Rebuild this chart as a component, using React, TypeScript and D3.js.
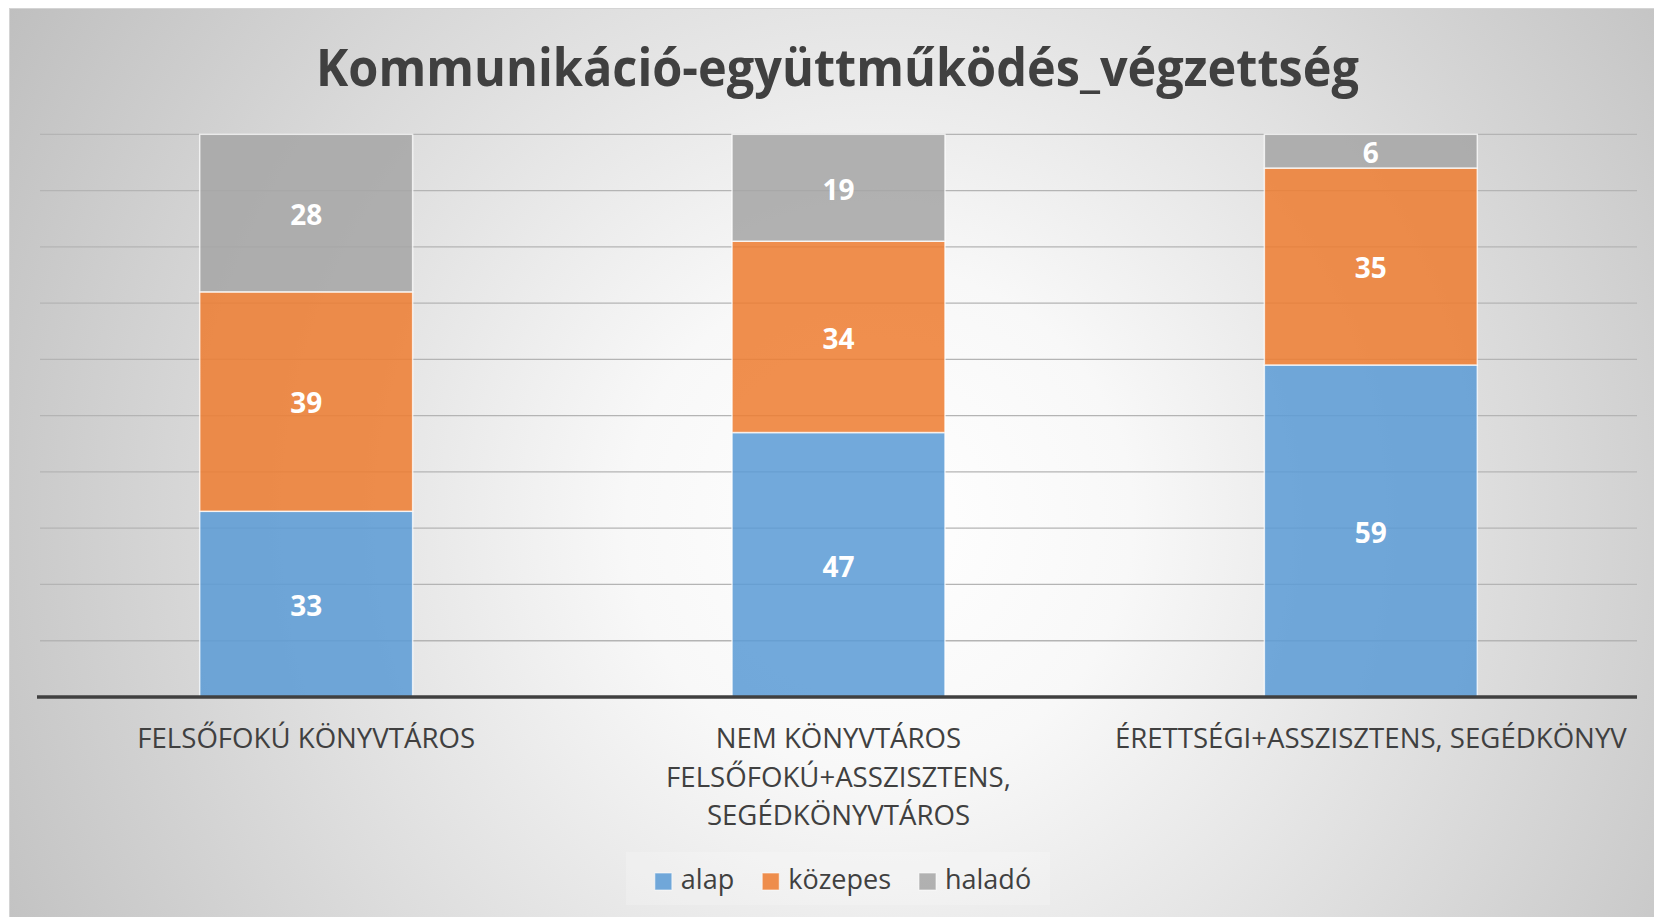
import React, { useMemo } from "react";
import * as d3 from "d3";

const TITLE = "Kommunikáció-együttműködés_végzettség";
const categories = [
  "FELSŐFOKÚ KÖNYVTÁROS",
  "NEM KÖNYVTÁROS FELSŐFOKÚ+ASSZISZTENS, SEGÉDKÖNYVTÁROS",
  "ÉRETTSÉGI+ASSZISZTENS, SEGÉDKÖNYV",
];
const categoryLines = [
  ["FELSŐFOKÚ KÖNYVTÁROS"],
  ["NEM KÖNYVTÁROS", "FELSŐFOKÚ+ASSZISZTENS,", "SEGÉDKÖNYVTÁROS"],
  ["ÉRETTSÉGI+ASSZISZTENS, SEGÉDKÖNYV"],
];
const seriesNames = ["alap", "közepes", "haladó"];
const alap = [33, 47, 59];
const kozepes = [39, 34, 35];
const halado = [28, 19, 6];
const yTicks = [0, 10, 20, 30, 40, 50, 60, 70, 80, 90, 100];
const colors = ["#5B9BD5", "#ED7D31", "#A5A5A5"];

const W = 1654;
const H = 917;
const FONT = "'Open Sans', 'Noto Sans', sans-serif";
const TEXT = "#404040";

function measure(text: string, font: string): number {
  const c = document.createElement("canvas").getContext("2d");
  if (!c) return text.length * 12;
  c.font = font;
  return c.measureText(text).width;
}

export default function App() {
  const rows = categories.map((c, i) => ({
    cat: c,
    alap: alap[i],
    közepes: kozepes[i],
    haladó: halado[i],
  }));
  const stack = d3.stack<any>().keys(seriesNames);
  const stacked = stack(rows);

  const plotLeft = 40;
  const plotRight = 1637;
  const plotTop = 134.3;
  const plotBottom = 697;

  const x = d3
    .scaleBand<string>()
    .domain(categories)
    .range([plotLeft, plotRight])
    .paddingInner(0.6)
    .paddingOuter(0.3);
  const y = d3.scaleLinear().domain([0, 100]).range([plotBottom, plotTop]);

  const legendFont = `27px ${FONT}`;
  const legend = useMemo(() => {
    const sq = 17;
    const gapText = 9;
    const gapItem = 28;
    const widths = seriesNames.map((s) => measure(s, legendFont));
    const total =
      widths.reduce((a, b) => a + b, 0) + seriesNames.length * (sq + gapText) + gapItem * (seriesNames.length - 1);
    let cx = 843 - total / 2;
    return seriesNames.map((s, i) => {
      const item = { name: s, sx: cx, tx: cx + sq + gapText, color: colors[i] };
      cx += sq + gapText + widths[i] + gapItem;
      return item;
    });
  }, []);

  return (
    <svg
      width={W}
      height={H}
      style={{ position: "absolute", left: 0, top: 0, display: "block" }}
      fontFamily={FONT}
    >
      <defs>
        <radialGradient id="bg" gradientUnits="userSpaceOnUse" cx={880} cy={520} r={1010}>
          <stop offset="0" stopColor="#ffffff" />
          <stop offset="0.25" stopColor="#f8f8f8" />
          <stop offset="1" stopColor="#bfbfbf" />
        </radialGradient>
      </defs>
      <rect x={0} y={0} width={W} height={H} fill="#ffffff" />
      <rect x={9.5} y={8.5} width={W} height={H} fill="url(#bg)" stroke="#d4d4d4" strokeWidth={1} />

      <text
        x={837.5}
        y={86}
        textAnchor="middle"
        fontSize={52}
        fontWeight={700}
        fill={TEXT}
        textLength={1043}
        lengthAdjust="spacingAndGlyphs"
      >
        {TITLE}
      </text>

      {yTicks
        .filter((t) => t > 0)
        .map((t) => (
          <line
            key={t}
            x1={plotLeft}
            x2={plotRight}
            y1={y(t)}
            y2={y(t)}
            stroke="#b4b4b4"
            strokeWidth={1.3}
          />
        ))}

      {stacked.map((s, si) =>
        s.map((d, i) => (
          <rect
            key={`${si}-${i}`}
            x={x(categories[i])!}
            y={y(d[1])}
            width={x.bandwidth()}
            height={y(d[0]) - y(d[1])}
            fill={colors[si]}
            fillOpacity={0.86}
            stroke="#ffffff"
            strokeOpacity={0.75}
            strokeWidth={1.5}
          />
        ))
      )}

      {stacked.map((s, si) =>
        s.map((d, i) => (
          <text
            key={`l-${si}-${i}`}
            x={x(categories[i])! + x.bandwidth() / 2}
            y={(y(d[0]) + y(d[1])) / 2}
            dy="0.42em"
            textAnchor="middle"
            fontSize={28}
            fontWeight={700}
            fill="#ffffff"
          >
            {d[1] - d[0]}
          </text>
        ))
      )}

      <line x1={plotLeft - 3} x2={plotRight} y1={plotBottom} y2={plotBottom} stroke={TEXT} strokeWidth={3.5} />

      {categoryLines.map((lines, i) => (
        <text
          key={`c-${i}`}
          x={x(categories[i])! + x.bandwidth() / 2}
          y={748}
          textAnchor="middle"
          fontSize={27.6}
          fill={TEXT}
        >
          {lines.map((ln, j) => (
            <tspan key={j} x={x(categories[i])! + x.bandwidth() / 2} dy={j === 0 ? 0 : 38.7}>
              {ln}
            </tspan>
          ))}
        </text>
      ))}

      <rect x={626} y={852} width={424} height={53} fill="#ffffff" fillOpacity={0.2} />
      {legend.map((l) => (
        <g key={l.name}>
          <rect x={l.sx} y={873} width={17} height={17} fill={l.color} fillOpacity={0.86} stroke="#ffffff" strokeOpacity={0.6} />
          <text x={l.tx} y={889} fontSize={27} fill={TEXT}>
            {l.name}
          </text>
        </g>
      ))}
    </svg>
  );
}
